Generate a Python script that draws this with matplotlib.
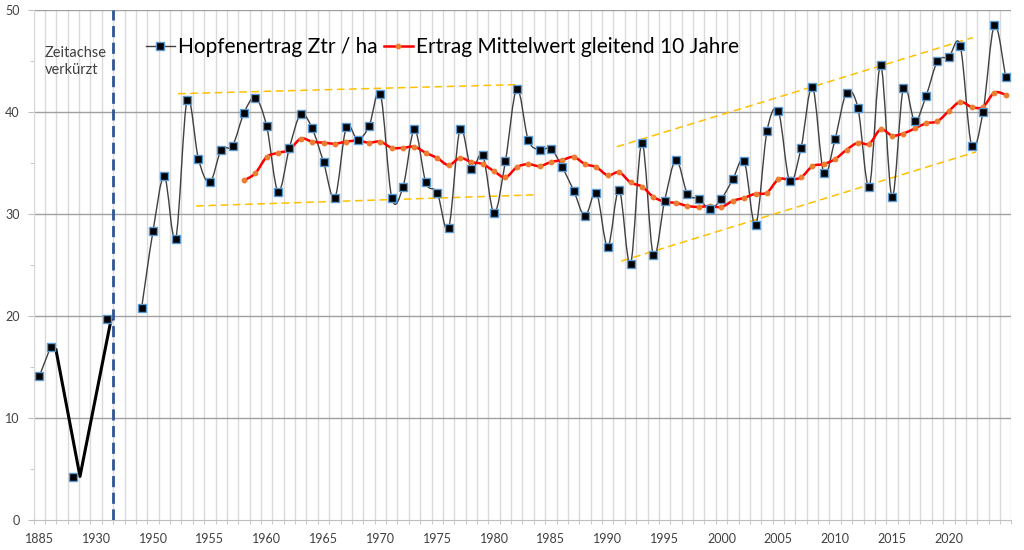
import matplotlib
matplotlib.use("Agg")
import matplotlib.pyplot as plt
from matplotlib.path import Path
from matplotlib.patches import PathPatch
from matplotlib.lines import Line2D

# ---------------- data ----------------
early_idx = [0, 1, 3, 6]            # compressed early time axis (category positions)
early_vals = [14.1, 17.0, 4.2, 19.7]

years = list(range(1949, 2026))
yield_vals = [20.8, 28.3, 33.7, 27.6, 41.2, 35.4, 33.1, 36.3, 36.7, 39.9,
              41.4, 38.6, 32.2, 36.5, 39.8, 38.4, 35.1, 31.6, 38.5, 37.3,
              38.6, 41.8, 31.6, 32.7, 38.3, 33.1, 32.1, 28.6, 38.3, 34.4,
              35.8, 30.1, 35.2, 42.3, 37.3, 36.3, 36.4, 34.6, 32.3, 29.8,
              32.1, 26.8, 32.4, 25.1, 37.0, 26.0, 31.3, 35.3, 32.0, 31.5,
              30.5, 31.5, 33.4, 35.2, 28.9, 38.1, 40.1, 33.2, 36.5, 42.5,
              34.0, 37.4, 41.9, 40.4, 32.7, 44.6, 31.7, 42.4, 39.1, 41.6,
              45.0, 45.4, 46.5, 36.7, 40.0, 48.5, 43.4]

ma_years = list(range(1958, 2026))
ma_vals = [33.3, 34.0, 35.6, 36.0, 36.3, 37.4, 37.1, 37.0, 36.9, 37.1,
           37.2, 37.0, 37.1, 36.5, 36.5, 36.6, 36.0, 35.5, 34.8, 35.5,
           35.1, 34.9, 34.2, 33.6, 34.6, 34.9, 34.7, 35.1, 35.3, 35.6,
           34.9, 34.6, 33.8, 34.1, 33.1, 32.7, 31.7, 31.2, 31.1, 30.8,
           30.7, 30.8, 30.7, 31.3, 31.6, 32.0, 32.1, 33.4, 33.4, 33.6,
           34.7, 34.9, 35.4, 36.3, 37.0, 36.9, 38.3, 37.7, 37.9, 38.4,
           38.9, 39.1, 40.1, 41.0, 40.5, 40.5, 41.9, 41.7]

tick_labels = ["1885", "1930", "1950", "1955", "1960", "1965", "1970", "1975",
               "1980", "1985", "1990", "1995", "2000", "2005", "2010", "2015", "2020"]

# hand-drawn trend channel lines (year, value) endpoints
trend_lines = [((1952.2, 41.8), (1982.3, 42.7)),
               ((1953.8, 30.8), (1983.9, 31.9)),
               ((1990.8, 36.6), (2022.1, 47.3)),
               ((1991.2, 25.4), (2022.4, 36.1))]

# hand-drawn connector in the compressed section (category position, value)
connector = [(1.47, 16.7), (3.58, 4.3), (6.3, 19.6)]

first_year_idx = 9      # category position of 1949
n_categories = 86
break_pos = 6.5

legend_labels = ["Hopfenertrag Ztr / ha", "Ertrag Mittelwert gleitend 10 Jahre"]


def yr(y):
    return first_year_idx + (y - years[0])


def smooth_path(xs, ys):
    pts = list(zip(xs, ys))
    verts = [pts[0]]
    codes = [Path.MOVETO]
    n = len(pts)
    for i in range(n - 1):
        p0 = pts[i - 1] if i > 0 else pts[i]
        p1 = pts[i]
        p2 = pts[i + 1]
        p3 = pts[i + 2] if i + 2 < n else pts[i + 1]
        c1 = (p1[0] + (p2[0] - p0[0]) / 6.0, p1[1] + (p2[1] - p0[1]) / 6.0)
        c2 = (p2[0] - (p3[0] - p1[0]) / 6.0, p2[1] - (p3[1] - p1[1]) / 6.0)
        verts += [c1, c2, p2]
        codes += [Path.CURVE4] * 3
    return Path(verts, codes)


plt.rcParams['font.family'] = ['Lato', 'DejaVu Sans']

fig = plt.figure(figsize=(10.24, 5.5), dpi=100)
ax = fig.add_axes([0.0328, 0.054, 0.9549, 0.9278])

# grid
ax.set_xlim(-0.5, n_categories - 0.5)
ax.set_ylim(0, 50)
for b in range(n_categories + 1):
    ax.axvline(b - 0.5, color='#dadada', lw=1.0, zorder=0)
for v in [10, 20, 30, 40, 50]:
    ax.axhline(v, color='#a0a0a0', lw=1.0, zorder=0.5)

# trend lines
for (a, b) in trend_lines:
    ax.plot([yr(a[0]), yr(b[0])], [a[1], b[1]], color='#ffc000', lw=1.1,
            ls=(0, (5, 3)), zorder=2)

# axis break line
ax.axvline(break_pos, color='#2f5597', lw=2.0, ls=(0, (4, 2)), zorder=3)

# main series line (smoothed) + early part
xi = [yr(y) for y in years]
ax.add_patch(PathPatch(smooth_path(xi, yield_vals), fill=False,
                       edgecolor='#404040', lw=1.0, zorder=4))
ax.plot(early_idx[:2], early_vals[:2], color='#404040', lw=1.0, zorder=4)
ax.plot([c[0] for c in connector], [c[1] for c in connector],
        color='black', lw=2.2, zorder=4)

# moving average
mi = [yr(y) for y in ma_years]
ax.add_patch(PathPatch(smooth_path(mi, ma_vals), fill=False,
                       edgecolor='#ff0000', lw=1.8, zorder=5))
ax.plot(mi, ma_vals, ls='none', marker='o', ms=3.2, mfc='#ed7d31',
        mec='#ed7d31', zorder=6)

# markers
ax.plot(early_idx + xi, early_vals + yield_vals, ls='none', marker='s', ms=6,
        mfc='black', mec='#5b9bd5', mew=1.0, zorder=7)

# axes styling
for s in ['top', 'right']:
    ax.spines[s].set_visible(False)
ax.spines['left'].set_color('#d9d9d9')
ax.spines['bottom'].set_color('#bfbfbf')
ax.set_xticks([0] + list(range(5, 81, 5)))
ax.set_xticklabels(tick_labels)
ax.set_xticks([b - 0.5 for b in range(n_categories + 1)], minor=True)
ax.set_yticks([0, 10, 20, 30, 40, 50])
ax.set_yticks([5, 15, 25, 35, 45], minor=True)
ax.tick_params(axis='x', which='major', length=0, pad=9, labelsize=9,
               labelcolor='#404040')
ax.tick_params(axis='x', which='minor', length=3, color='#bfbfbf')
ax.tick_params(axis='y', which='major', length=4, color='#bfbfbf', pad=6,
               labelsize=9, labelcolor='#404040')
ax.tick_params(axis='y', which='minor', length=3, color='#bfbfbf')

ax.text(0.45, 46.5, "Zeitachse\nverkürzt", fontsize=10.5, color='#404040',
        va='top', ha='left', linespacing=1.3)

# legend
h1 = Line2D([], [], color='#404040', lw=1.0, marker='s', ms=6, mfc='black',
            mec='#5b9bd5')
h2 = Line2D([], [], color='#ff0000', lw=1.8, marker='o', ms=3.2,
            mfc='#ed7d31', mec='#ed7d31')
fig.legend([h1, h2], legend_labels, loc='center', bbox_to_anchor=(0.432, 0.9145),
           ncol=2, frameon=False, fontsize=15, handlelength=1.4,
           handletextpad=0.15, columnspacing=0.3, borderpad=0)

fig.savefig("out.png", dpi=100)
